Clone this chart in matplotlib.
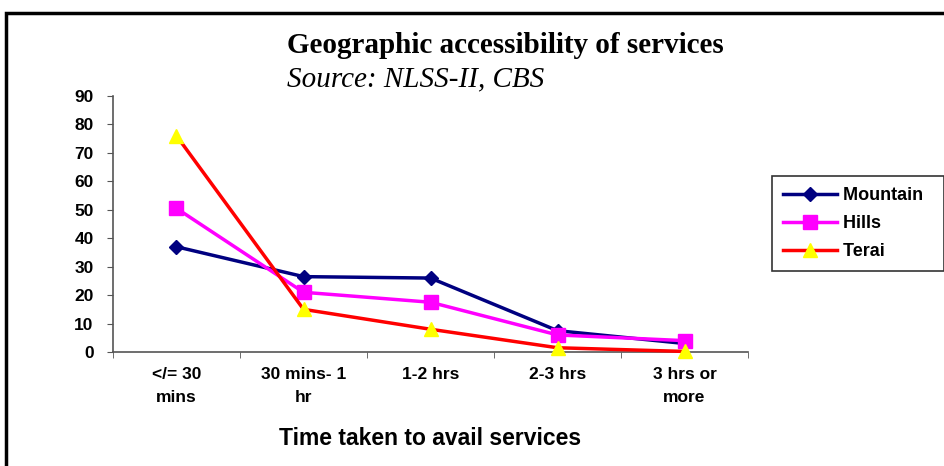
import numpy as np
import matplotlib.pyplot as plt
from matplotlib.patches import Rectangle

categories = ['</= 30\nmins', '30 mins- 1\nhr', '1-2 hrs', '2-3 hrs', '3 hrs or\nmore']
mountain = [37, 26.5, 26, 7.5, 3]
hills = [50.5, 21, 17.5, 6, 4]
terai = [76, 15, 8, 1.5, 0.2]


def main():
    fig = plt.figure(figsize=(9.44, 4.66), dpi=100)
    ax = fig.add_axes([0.1197, 0.2446, 0.6727, 0.5494])

    x = np.arange(len(categories))
    ax.plot(x, mountain, color='#000080', lw=2.5, marker='D', ms=7,
            mfc='#000080', mec='#000080', label='Mountain', clip_on=False, zorder=3)
    ax.plot(x, hills, color='#FF00FF', lw=2.5, marker='s', ms=10,
            mfc='#FF00FF', mec='#FF00FF', label='Hills', clip_on=False, zorder=3)
    ax.plot(x, terai, color='#FF0000', lw=2.5, marker='^', ms=10,
            mfc='#FFFF00', mec='#FFFF00', label='Terai', clip_on=False, zorder=3)

    ax.set_xlim(-0.5, 4.5)
    ax.set_ylim(0, 90)
    ax.set_yticks(range(0, 91, 10))
    ax.set_xticks(x)
    ax.set_xticklabels(categories, fontsize=12.5, fontweight='bold',
                       family='Liberation Sans', linespacing=1.65)
    ax.set_xticks(np.arange(-0.5, 5, 1), minor=True)
    ax.tick_params(axis='x', which='major', length=0, pad=11)
    ax.tick_params(axis='x', which='minor', length=4, color='#555555', direction='out')
    ax.tick_params(axis='y', length=4, color='#555555', direction='out', pad=10)
    for lab in ax.get_yticklabels():
        lab.set_fontweight('bold')
        lab.set_fontsize(12.5)
        lab.set_family('Liberation Sans')

    for s in ['top', 'right']:
        ax.spines[s].set_visible(False)
    for s in ['left', 'bottom']:
        ax.spines[s].set_color('#555555')
        ax.spines[s].set_linewidth(1.2)

    ax.set_xlabel('Time taken to avail services', fontsize=16.5, fontweight='bold',
                  family='Liberation Sans', labelpad=16)

    fig.text(0.304, 0.886, 'Geographic accessibility of services', ha='left',
             va='baseline', fontsize=21, fontweight='bold', family='Liberation Serif')
    fig.text(0.304, 0.815, 'Source: NLSS-II, CBS', ha='left', va='baseline',
             fontsize=21, style='italic', family='Liberation Serif')

    leg = ax.legend(loc='upper left', bbox_to_anchor=(0.818, 0.622),
                    bbox_transform=fig.transFigure, frameon=True, fancybox=False,
                    edgecolor='black', handlelength=3.0, handletextpad=0.3,
                    prop={'family': 'Liberation Sans', 'weight': 'bold', 'size': 13},
                    borderpad=0.6, labelspacing=0.62, borderaxespad=0)
    leg.get_frame().set_linewidth(1.2)
    for t in leg.get_texts():
        t.set_text(t.get_text() + '  ')

    # only the top and left edges of the outer frame are inside the picture
    fig.patches.append(Rectangle((0.0065, -0.1), 1.1, 1.072, transform=fig.transFigure,
                                 fill=False, edgecolor='black', lw=2.5))

    fig.savefig('out.png', dpi=100)


if __name__ == '__main__':
    main()
